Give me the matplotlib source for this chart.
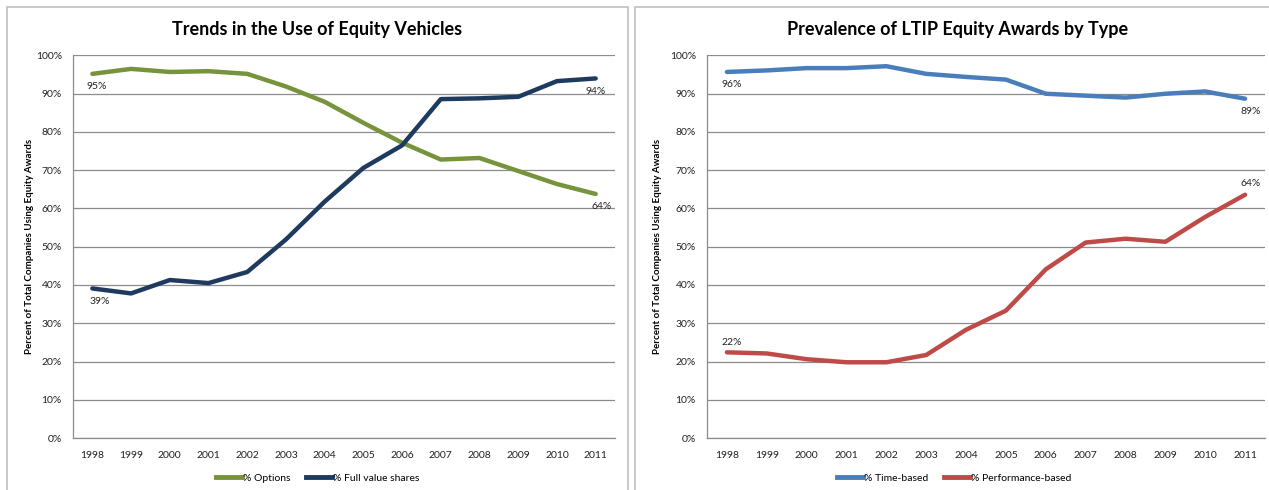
import matplotlib
matplotlib.use("Agg")
import matplotlib.pyplot as plt
from matplotlib.patches import Rectangle
from matplotlib.ticker import FuncFormatter

plt.rcParams['font.family'] = ['Lato', 'DejaVu Sans']

years = ['1998', '1999', '2000', '2001', '2002', '2003', '2004',
         '2005', '2006', '2007', '2008', '2009', '2010', '2011']

options = [95.2, 96.5, 95.7, 95.9, 95.2, 91.9, 87.9,
           82.4, 77.2, 72.8, 73.2, 69.8, 66.4, 63.8]
full_value = [39.1, 37.8, 41.3, 40.5, 43.4, 51.9, 61.8,
              70.6, 76.5, 88.6, 88.8, 89.2, 93.3, 94.0]

time_based = [95.7, 96.1, 96.7, 96.7, 97.2, 95.2, 94.4,
              93.7, 90.0, 89.5, 89.0, 90.0, 90.6, 88.7]
perf_based = [22.4, 22.1, 20.6, 19.8, 19.8, 21.7, 28.3,
              33.3, 44.1, 51.1, 52.1, 51.3, 57.8, 63.6]

GREEN = '#77933C'
NAVY = '#1F3A5F'
BLUE = '#4A7EBB'
RED = '#BE4B48'
GRID = '#8C8C8C'

W, H = 1269, 490
fig = plt.figure(figsize=(W / 100, H / 100), dpi=100)

# panel frames
for x0, x1 in [(7, 628), (635, 1275)]:
    fig.patches.append(Rectangle((x0 / W, -0.05), (x1 - x0) / W, 1 - 7 / H + 0.05,
                                 transform=fig.transFigure, fill=False,
                                 edgecolor='#BFBFBF', linewidth=1.2))


def panel(rect, title, s1, s2, c1, c2, n1, n2, labels, title_x, ylab_x, leg_x):
    ax = fig.add_axes(rect)
    x = list(range(len(years)))
    ax.plot(x, s1, color=c1, lw=3.2, solid_capstyle='round', zorder=3)
    ax.plot(x, s2, color=c2, lw=3.2, solid_capstyle='round', zorder=3)
    ax.set_xlim(-0.5, len(years) - 0.5)
    ax.set_ylim(0, 100)
    ax.set_yticks(range(0, 101, 10))
    ax.yaxis.set_major_formatter(FuncFormatter(lambda v, p: f'{int(v)}%'))
    ax.set_xticks(x)
    ax.set_xticklabels(years)
    ax.tick_params(axis='both', length=0, labelsize=7.5, colors='#222222')
    ax.tick_params(axis='x', pad=9)
    ax.tick_params(axis='y', pad=8)
    ax.grid(axis='y', color=GRID, lw=0.9)
    ax.set_axisbelow(True)
    for s in ['top', 'right']:
        ax.spines[s].set_visible(False)
    for s in ['left', 'bottom']:
        ax.spines[s].set_color(GRID)
        ax.spines[s].set_linewidth(0.9)
    for (xi, yi, txt, dx, dy, ha, va) in labels:
        ax.annotate(txt, (xi, yi), xytext=(dx, dy), textcoords='offset points',
                    ha=ha, va=va, fontsize=7.5, color='#222222')
    fig.text(title_x, 1 - 30 / H, title, ha='center', va='center',
             fontsize=13, fontweight='bold')
    fig.text(ylab_x, rect[1] + rect[3] / 2, 'Percent of Total Companies Using Equity Awards',
             rotation=90, ha='center', va='center', fontsize=7, fontweight='bold')
    h1, = ax.plot([], [], color=c1, lw=3.5)
    h2, = ax.plot([], [], color=c2, lw=3.5)
    fig.legend([h1, h2], [n1, n2], loc='center', bbox_to_anchor=(leg_x, 1 - 478 / H),
               ncol=2, frameon=False, fontsize=7.5, handlelength=2.5,
               handletextpad=0.1, columnspacing=1.5)
    return ax


panel([73 / W, 1 - 438 / H, (615 - 73) / W, (438 - 55.5) / H],
      'Trends in the Use of Equity Vehicles', options, full_value, GREEN, NAVY,
      '% Options', '% Full value shares',
      [(0, options[0], f'{options[0]:.0f}%', -4, -6, 'left', 'top'),
       (0, full_value[0], f'{full_value[0]:.0f}%', -2, -6, 'left', 'top'),
       (13, full_value[13], f'{full_value[13]:.0f}%', 0, -6, 'center', 'top'),
       (13, options[13], f'{options[13]:.0f}%', 4, -6, 'center', 'top')],
      317 / W, 30 / W, 318 / W)

panel([707 / W, 1 - 438 / H, (1265 - 707) / W, (438 - 55.5) / H],
      'Prevalence of LTIP Equity Awards by Type', time_based, perf_based, BLUE, RED,
      '% Time-based', '% Performance-based',
      [(0, time_based[0], f'{time_based[0]:.0f}%', -4, -6, 'left', 'top'),
       (0, perf_based[0], f'{perf_based[0]:.0f}%', -4, 4, 'left', 'bottom'),
       (13, time_based[13], f'{time_based[13]:.0f}%', 4, -6, 'center', 'top'),
       (13, perf_based[13], f'{perf_based[13]:.0f}%', 4, 5, 'center', 'bottom')],
      958 / W, 658 / W, 954 / W)

fig.savefig('out.png', dpi=100)
